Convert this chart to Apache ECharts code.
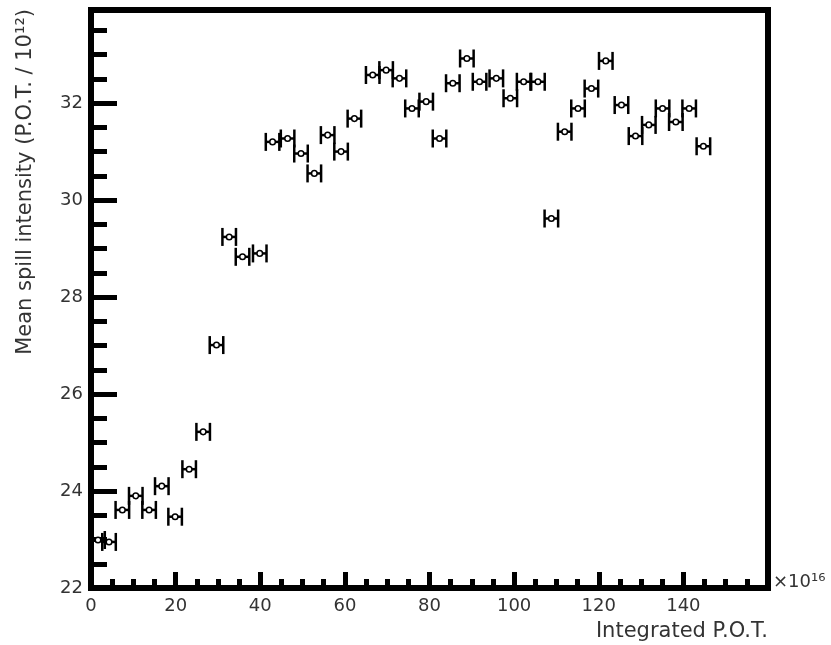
<!DOCTYPE html>
<html>
<head>
<meta charset="utf-8">
<script src="https://cdn.jsdelivr.net/npm/echarts@6/dist/echarts.min.js"></script>
<style>
  html, body { margin: 0; padding: 0; background: #fff; }
  #chart { width: 831px; height: 645px; }
</style>
</head>
<body>
<div id="chart"></div>
<script>
// integrated P.O.T. (x10^16), bin centres
const potValues = [
  1.66, 4.26, 7.41, 10.58, 13.73, 16.73, 19.88, 23.2, 26.51, 29.66,
  32.66, 35.81, 39.88, 42.91, 46.46, 49.63, 52.78, 55.93, 59.1, 62.25,
  66.58, 69.75, 72.9, 75.86, 79.22, 82.37, 85.51, 88.83, 91.83, 95.79,
  99.1, 102.25, 105.63, 108.8, 111.95, 115.1, 118.27, 121.66, 125.37, 128.69,
  131.83, 135.08, 138.22, 141.37, 144.73
];
// mean spill intensity (P.O.T. / 10^12)
const intensityValues = [
  22.99, 22.95, 23.61, 23.9, 23.61, 24.1, 23.47, 24.45, 25.22, 27.01,
  29.24, 28.83, 28.9, 31.2, 31.27, 30.96, 30.55, 31.34, 31.0, 31.68,
  32.58, 32.68, 32.51, 31.89, 32.03, 31.27, 32.41, 32.92, 32.44, 32.51,
  32.1, 32.44, 32.44, 29.62, 31.41, 31.89, 32.3, 32.87, 31.96, 31.32,
  31.55, 31.89, 31.61, 31.89, 31.11
];
const xErr = 1.6; // half bin width
const xTicks = [0, 20, 40, 60, 80, 100, 120, 140];
const yTicks = [22, 24, 26, 28, 30, 32];

const data = potValues.map((x, i) => [x, intensityValues[i], xErr]);

const font = 'DejaVu Sans';
const chart = echarts.init(document.getElementById('chart'));

function renderPoint(params, api) {
  const x = api.value(0), y = api.value(1), ex = api.value(2);
  const c = api.coord([x, y]);
  const l = api.coord([x - ex, y]);
  const r = api.coord([x + ex, y]);
  const cap = 9;
  const ls = { stroke: '#000', lineWidth: 2.5 };
  return {
    type: 'group',
    children: [
      { type: 'line', shape: { x1: l[0], y1: l[1], x2: r[0], y2: r[1] }, style: ls },
      { type: 'line', shape: { x1: l[0], y1: l[1] - cap, x2: l[0], y2: l[1] + cap }, style: ls },
      { type: 'line', shape: { x1: r[0], y1: r[1] - cap, x2: r[0], y2: r[1] + cap }, style: ls },
      { type: 'circle', shape: { cx: c[0], cy: c[1], r: 2.8 }, style: { fill: '#fff', stroke: '#000', lineWidth: 1.5 } }
    ]
  };
}

const labelStyle = { color: '#333', fontFamily: font, fontSize: 18 };

chart.setOption({
  backgroundColor: '#fff',
  animation: false,
  grid: {
    left: 91, top: 10, width: 677, height: 578,
    show: true, borderColor: '#000', borderWidth: 6, backgroundColor: '#fff'
  },
  xAxis: [
    {
      type: 'value', min: 0, max: 160, interval: 20, position: 'bottom',
      axisLine: { show: false },
      axisTick: { inside: true, length: 16, lineStyle: { color: '#000', width: 5 } },
      axisLabel: Object.assign({
        margin: 9, showMaxLabel: false,
        formatter: v => xTicks.includes(v) ? String(v) : ''
      }, labelStyle),
      splitLine: { show: false }
    },
    {
      type: 'value', min: 0, max: 160, interval: 5, position: 'bottom', offset: 0,
      axisLine: { show: false },
      axisTick: { inside: true, length: 9, lineStyle: { color: '#000', width: 5 } },
      axisLabel: { show: false },
      splitLine: { show: false }
    }
  ],
  yAxis: [
    {
      type: 'value', min: 22, max: 33.92, interval: 2, position: 'left',
      axisLine: { show: false },
      axisTick: { inside: true, length: 26, lineStyle: { color: '#000', width: 5 } },
      axisLabel: Object.assign({
        margin: 8, showMaxLabel: false,
        formatter: v => yTicks.includes(v) ? String(v) : ''
      }, labelStyle),
      splitLine: { show: false }
    },
    {
      type: 'value', min: 22, max: 33.92, interval: 0.5, position: 'left', offset: 0,
      axisLine: { show: false },
      axisTick: { inside: true, length: 16, lineStyle: { color: '#000', width: 5 } },
      axisLabel: { show: false },
      splitLine: { show: false }
    }
  ],
  series: [
    {
      type: 'custom',
      xAxisIndex: 0,
      yAxisIndex: 0,
      renderItem: renderPoint,
      encode: { x: 0, y: 1 },
      data: data,
      clip: false
    }
  ],
  graphic: [
    {
      type: 'text', x: 26, y: 9, rotation: Math.PI / 2,
      style: {
        text: 'Mean spill intensity (P.O.T. / 10¹²)',
        font: '21px "DejaVu Sans"', fill: '#333',
        align: 'right', verticalAlign: 'middle'
      }
    },
    {
      type: 'text', x: 768, y: 632,
      style: {
        text: 'Integrated P.O.T.',
        font: '21px "DejaVu Sans"', fill: '#333',
        align: 'right', verticalAlign: 'middle'
      }
    },
    {
      type: 'text', x: 773, y: 582,
      style: {
        text: '×10¹⁶',
        font: '18px "DejaVu Sans"', fill: '#333',
        align: 'left', verticalAlign: 'middle'
      }
    }
  ]
});
</script>
</body>
</html>
